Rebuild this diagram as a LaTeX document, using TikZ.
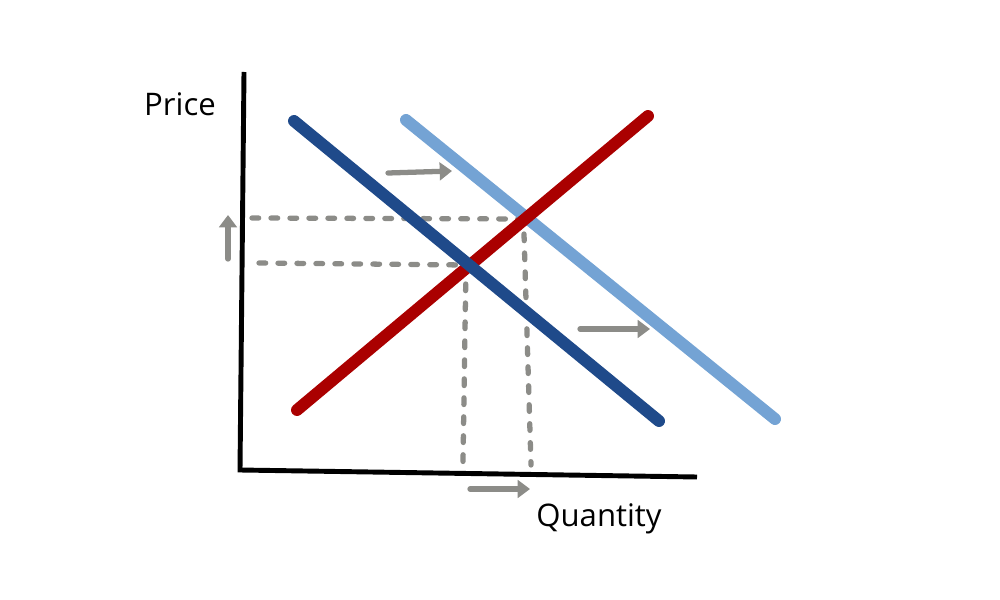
\documentclass[tikz,border=0pt]{standalone}
\usepackage{fontspec}
\setmainfont{Open Sans}
\usetikzlibrary{arrows.meta}
\definecolor{demandblue}{HTML}{1F4A8A}
\definecolor{shiftblue}{HTML}{74A3D4}
\definecolor{supplyred}{HTML}{AA0000}
\definecolor{guidegray}{HTML}{8C8C88}
\begin{document}
\begin{tikzpicture}[x=0.2mm, y=-0.2mm,
    every node/.style={font=\fontsize{17.7}{21}\selectfont},
    axis/.style={line width=2.8pt, black},
    curve/.style={line width=6.8pt, line cap=round},
    guide/.style={line width=3pt, guidegray, dash pattern=on 3.8pt off 7pt, line cap=round},
    movearrow/.style={line width=3pt, guidegray, line cap=round, -{Triangle[length=7pt, width=10pt]}}
  ]
  \useasboundingbox (0,0) rectangle (1000,600);
  % axes
  \coordinate (top)    at (244,72);
  \coordinate (origin) at (240,470);
  \coordinate (right)  at (697,477);
  \draw[axis] (top) -- (origin) -- (right);
  \node (price) at (180,104) {Price};
  \node (qty)   at (599,519) {Quantity};
  % curves
  \coordinate (d1a) at (294,121); \coordinate (d1b) at (659,421);
  \coordinate (d2a) at (406,120); \coordinate (d2b) at (775,419);
  \coordinate (sa)  at (297,410); \coordinate (sb)  at (648,116);
  % equilibria
  \coordinate (eq1) at (466,265);
  \coordinate (eq2) at (524,219);
  \coordinate (p1)  at (259,263);
  \coordinate (p2)  at (252,218);
  \coordinate (q1)  at (463,462);
  \coordinate (q2)  at (531,465);
  \draw[guide] (p2) -- (eq2);
  \draw[guide] (p1) -- (eq1);
  \draw[guide] (eq1) -- (q1);
  \draw[guide] (524,234) -- (q2);
  \draw[curve, shiftblue]  (d2a) -- (d2b);
  \draw[curve, supplyred]  (sa) -- (sb);
  \draw[curve, demandblue] (d1a) -- (d1b);
  % shift arrows
  \draw[movearrow] (388,173) -- (452,171);
  \draw[movearrow] (580,329) -- (650,329);
  \draw[movearrow] (470,489) -- (530,489);
  \draw[movearrow] (228,259) -- (228,215);
\end{tikzpicture}
\end{document}
